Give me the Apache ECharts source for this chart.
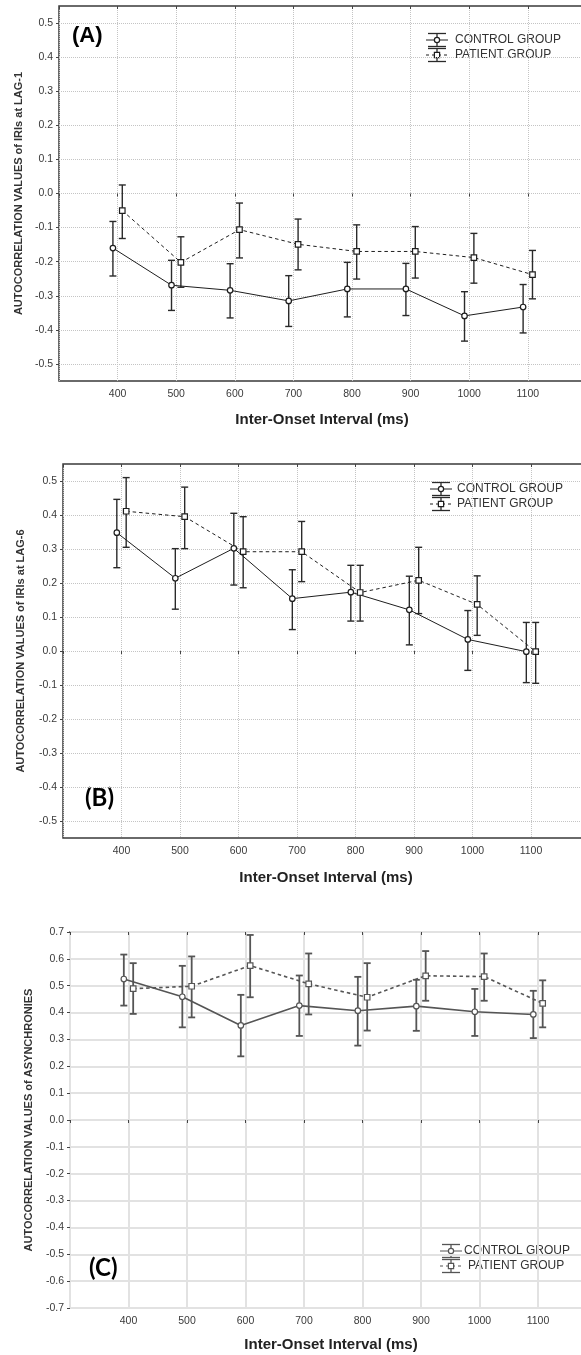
<!DOCTYPE html>
<html><head><meta charset="utf-8">
<script src="https://cdn.jsdelivr.net/npm/echarts@6/dist/echarts.min.js"></script>
<style>html,body{margin:0;padding:0;background:#fff}#c{width:581px;height:1355px}</style>
</head><body><div id="c"></div>
<script>
// ---------- data ----------
const ioi = [400, 500, 600, 700, 800, 900, 1000, 1100];
const xTickLabels = [400, 500, 600, 700, 800, 900, 1000, 1100];
const yTicksAB = [-0.5, -0.4, -0.3, -0.2, -0.1, 0.0, 0.1, 0.2, 0.3, 0.4, 0.5];
const yTicksC = [-0.7, -0.6, -0.5, -0.4, -0.3, -0.2, -0.1, 0.0, 0.1, 0.2, 0.3, 0.4, 0.5, 0.6, 0.7];
const groupNames = ['CONTROL GROUP', 'PATIENT GROUP'];

// (A) lag-1 autocorrelation of IRIs
const lag1Control     = [-0.160, -0.269, -0.284, -0.315, -0.280, -0.280, -0.359, -0.333];
const lag1ControlLow  = [-0.242, -0.343, -0.365, -0.390, -0.362, -0.358, -0.433, -0.409];
const lag1ControlHigh = [-0.082, -0.196, -0.206, -0.241, -0.202, -0.205, -0.288, -0.267];
const lag1Patient     = [-0.050, -0.202, -0.106, -0.149, -0.170, -0.170, -0.188, -0.238];
const lag1PatientLow  = [-0.132, -0.275, -0.189, -0.224, -0.251, -0.248, -0.263, -0.309];
const lag1PatientHigh = [ 0.025, -0.127, -0.028, -0.075, -0.092, -0.097, -0.117, -0.167];

// (B) lag-6 autocorrelation of IRIs
const lag6Control     = [0.348, 0.214, 0.302, 0.154, 0.173, 0.121, 0.034, -0.002];
const lag6ControlLow  = [0.245, 0.123, 0.194, 0.063, 0.088, 0.018, -0.057, -0.093];
const lag6ControlHigh = [0.446, 0.301, 0.405, 0.239, 0.252, 0.220, 0.119, 0.084];
const lag6Patient     = [0.411, 0.395, 0.292, 0.292, 0.172, 0.208, 0.137, -0.002];
const lag6PatientLow  = [0.305, 0.301, 0.186, 0.204, 0.088, 0.110, 0.046, -0.095];
const lag6PatientHigh = [0.510, 0.482, 0.395, 0.381, 0.252, 0.305, 0.221, 0.084];

// (C) autocorrelation of asynchronies
const asyControl     = [0.525, 0.459, 0.352, 0.426, 0.407, 0.424, 0.403, 0.393];
const asyControlLow  = [0.426, 0.345, 0.237, 0.313, 0.277, 0.332, 0.313, 0.305];
const asyControlHigh = [0.616, 0.574, 0.466, 0.538, 0.533, 0.522, 0.488, 0.481];
const asyPatient     = [0.489, 0.498, 0.575, 0.507, 0.457, 0.537, 0.534, 0.434];
const asyPatientLow  = [0.395, 0.382, 0.457, 0.393, 0.333, 0.444, 0.444, 0.345];
const asyPatientHigh = [0.584, 0.609, 0.689, 0.620, 0.584, 0.629, 0.620, 0.520];

// ---------- layout / style ----------
const OFFSET = [-8, 8]; // horizontal dodge (ms) for control / patient
const panels = [
  {label:'(A)', yTitle:'AUTOCORRELATION VALUES of IRIs at LAG-1', ticks:yTicksAB, min:-0.55, max:0.55,
   grid:{left:59, top:6, width:586, height:375}, nameGap:28,
   series:[[lag1Control, lag1ControlLow, lag1ControlHigh],[lag1Patient, lag1PatientLow, lag1PatientHigh]],
   ink:'#1e1e1e', barInk:'#2a2a2a', barW:1.4, lineW:1, grid2:{type:'dotted', color:'#c4c4c4', width:1},
   lab:{x:72, y:36, font:'bold 22px "Liberation Sans", Arial'}, xt:{x:322, y:420},
   leg:{x:426, y:40, tx:455, tx2:455}},
  {label:'(B)', yTitle:'AUTOCORRELATION VALUES of IRIs at LAG-6', ticks:yTicksAB, min:-0.55, max:0.55,
   grid:{left:63, top:464, width:585, height:374}, nameGap:37,
   series:[[lag6Control, lag6ControlLow, lag6ControlHigh],[lag6Patient, lag6PatientLow, lag6PatientHigh]],
   ink:'#1e1e1e', barInk:'#2a2a2a', barW:1.4, lineW:1, grid2:{type:'dotted', color:'#c4c4c4', width:1},
   lab:{x:85, y:798, font:'bold 24px Lato, "Open Sans", sans-serif'}, xt:{x:326, y:878},
   leg:{x:430, y:489, tx:457, tx2:457}},
  {label:'(C)', yTitle:'AUTOCORRELATION VALUES of ASYNCHRONIES', ticks:yTicksC, min:-0.7, max:0.7,
   grid:{left:70, top:932, width:585, height:376}, nameGap:36,
   series:[[asyControl, asyControlLow, asyControlHigh],[asyPatient, asyPatientLow, asyPatientHigh]],
   ink:'#555555', barInk:'#555555', barW:1.8, lineW:1.6, grid2:{type:'solid', color:'#e2e2e2', width:2},
   lab:{x:89, y:1268, font:'bold 24px Lato, "Open Sans", sans-serif'}, xt:{x:331, y:1345},
   leg:{x:440, y:1251, tx:464, tx2:468}}
];

const FONT = '"Liberation Sans", Arial, sans-serif';
const grids = [], xAxes = [], yAxes = [], series = [], graphics = [];

function errorBars(gi, xs, lo, hi, color, w) {
  return {
    type:'custom', xAxisIndex:gi, yAxisIndex:gi, z:2, silent:true, animation:false, clip:false,
    data: xs.map((x, i) => [x, lo[i], hi[i]]),
    encode:{x:0, y:[1, 2]},
    renderItem:(params, api) => {
      const x = api.value(0);
      const a = api.coord([x, api.value(2)]);
      const b = api.coord([x, api.value(1)]);
      const hw = 3.5;
      const style = {stroke:color, lineWidth:w, fill:null};
      return {type:'group', children:[
        {type:'line', shape:{x1:a[0], y1:a[1], x2:b[0], y2:b[1]}, style},
        {type:'line', shape:{x1:a[0]-hw, y1:a[1], x2:a[0]+hw, y2:a[1]}, style},
        {type:'line', shape:{x1:b[0]-hw, y1:b[1], x2:b[0]+hw, y2:b[1]}, style}
      ]};
    }
  };
}

function legendGlyph(x, yMid, kind, p) {
  const w = 22, cx = x + w/2, style = {stroke:p.barInk, lineWidth:1.3, fill:null};
  const ch = [
    {type:'line', shape:{x1:x+2, y1:yMid-6.5, x2:x+w-2, y2:yMid-6.5}, style},
    {type:'line', shape:{x1:x+2, y1:yMid+6.5, x2:x+w-2, y2:yMid+6.5}, style},
    {type:'line', shape:{x1:cx, y1:yMid-6.5, x2:cx, y2:yMid+6.5}, style},
    {type:'line', shape:{x1:x, y1:yMid, x2:x+w, y2:yMid},
     style:{stroke:p.ink, lineWidth:1, lineDash: kind === 0 ? null : [3, 3]}}
  ];
  if (kind === 0) ch.push({type:'circle', shape:{cx, cy:yMid, r:2.6}, style:{fill:'#fff', stroke:p.ink, lineWidth:1.2}});
  else ch.push({type:'rect', shape:{x:cx-2.6, y:yMid-2.6, width:5.2, height:5.2}, style:{fill:'#fff', stroke:p.ink, lineWidth:1.2}});
  return ch;
}

panels.forEach((p, gi) => {
  grids.push(Object.assign({show:true, borderColor:'#3a3a3a', borderWidth:1.5, backgroundColor:'transparent',
    containLabel:false, outerBoundsMode:'none'}, p.grid));
  xAxes[gi] = {
    type:'value', gridIndex:gi, min:300, max:1300, interval:100,
    axisLine:{show:false},
    axisTick:{show:true, length:3, lineStyle:{color:'#444'}},
    axisLabel:{fontFamily:FONT, fontSize:10.5, color:'#3a3a3a', margin:8,
      formatter:v => xTickLabels.indexOf(v) >= 0 ? String(v) : ''},
    splitLine:{show:true, lineStyle:p.grid2}
  };
  xAxes[gi + 3] = {
    type:'value', gridIndex:gi, position:'top', min:300, max:1300, interval:100,
    axisLine:{show:false}, axisLabel:{show:false}, splitLine:{show:false},
    axisTick:{show:true, inside:true, length:3, lineStyle:{color:'#444'}}
  };
  yAxes.push({
    type:'value', gridIndex:gi, min:p.min, max:p.max,
    axisLine:{show:false},
    axisTick:{show:true, length:3, customValues:p.ticks, lineStyle:{color:'#444'}},
    axisLabel:{customValues:p.ticks, fontFamily:FONT, fontSize:10.5, color:'#3a3a3a', margin:6,
      formatter:v => Number(v).toFixed(1)},
    splitLine:{show:true, lineStyle:p.grid2},
    name:p.yTitle, nameLocation:'middle', nameRotate:90, nameGap:p.nameGap,
    nameTextStyle:{fontFamily:FONT, fontSize:11, fontWeight:'bold', color:'#333'}
  });
  p.series.forEach((s, k) => {
    const xs = ioi.map(v => v + OFFSET[k]);
    series.push(errorBars(gi, xs, s[1], s[2], p.barInk, p.barW));
    series.push({
      type:'line', name:groupNames[k], xAxisIndex:gi, yAxisIndex:gi, z:3, animation:false,
      data: xs.map((x, i) => [x, s[0][i]]),
      symbol: k === 0 ? 'circle' : 'rect', symbolSize: 5.5, showSymbol:true,
      lineStyle:{color:p.ink, width:p.lineW, type: k === 0 ? 'solid' : [3.5, 3]},
      itemStyle:{color:'#fff', borderColor:p.ink, borderWidth:1.2}
    });
  });
  graphics.push({type:'text', x:p.lab.x, y:p.lab.y, style:{text:p.label, font:p.lab.font, fill:'#000', verticalAlign:'middle'}});
  graphics.push({type:'text', x:p.xt.x, y:p.xt.y, style:{text:'Inter-Onset Interval (ms)', font:'bold 15px ' + FONT, fill:'#222', align:'center', verticalAlign:'middle'}});
  const L = p.leg;
  graphics.push({type:'group', children:legendGlyph(L.x, L.y, 0, p)});
  graphics.push({type:'group', children:legendGlyph(L.x, L.y + 15, 1, p)});
  graphics.push({type:'text', x:L.tx, y:L.y, style:{text:groupNames[0], font:'12px ' + FONT, fill:'#333', verticalAlign:'middle'}});
  graphics.push({type:'text', x:L.tx2, y:L.y + 15, style:{text:groupNames[1], font:'12px ' + FONT, fill:'#333', verticalAlign:'middle'}});
});

const chart = echarts.init(document.getElementById('c'), null, {renderer:'canvas'});
chart.setOption({
  animation:false, backgroundColor:'#fff',
  grid:grids, xAxis:xAxes, yAxis:yAxes, series, graphic:graphics
});
</script></body></html>
